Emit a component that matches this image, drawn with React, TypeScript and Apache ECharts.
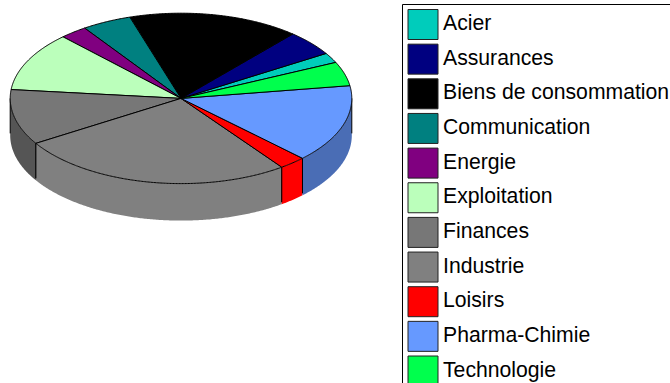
import React, { useEffect, useRef } from "react";
import * as echarts from "echarts";

const categories = ["Acier", "Assurances", "Biens de consommation", "Communication", "Energie", "Exploitation", "Finances", "Industrie", "Loisirs", "Pharma-Chimie", "Technologie"];
const shares = [1.9, 4.8, 16.2, 4.7, 2.6, 11.2, 10.5, 26.2, 2.55, 14.8, 4.55];
const topColors = ["#00CCBB", "#000080", "#000000", "#008080", "#800080", "#BBFFBB", "#777777", "#808080", "#FF0000", "#6699FF", "#00FF4D"];
const wallColors = ["#00CCBB", "#000080", "#000000", "#008080", "#800080", "#BBFFBB", "#555555", "#808080", "#FF0000", "#4A6DB5", "#00FF4D"];
const startAngle = 25;

const CX = 181, CY = 98.4, RX = 170.8, RY = 85.2, DEPTH = 37;

const total = shares.reduce((a, b) => a + b, 0);
const pt = (deg: number, dy = 0): number[] => {
  const r = (deg * Math.PI) / 180;
  return [CX + RX * Math.cos(r), CY - RY * Math.sin(r) + dy];
};
const arc = (a: number, b: number, dy = 0): number[][] => {
  const n = Math.max(2, Math.ceil(Math.abs(b - a) * 2));
  const out: number[][] = [];
  for (let i = 0; i <= n; i++) out.push(pt(a + ((b - a) * i) / n, dy));
  return out;
};

function sliceRenderer(index: number) {
  const before = shares.slice(0, index).reduce((a, b) => a + b, 0);
  return (_params: any, api: any) => {
    const value = api.value(0);
    const a0 = startAngle + (before / total) * 360;
    const a1 = a0 + (value / total) * 360;
    const children: any[] = [];
    for (const shift of [0, 360]) {
      const w0 = Math.max(a0 - shift, 180);
      const w1 = Math.min(a1 - shift, 360);
      if (w1 > w0) {
        children.push({
          type: "polygon",
          shape: { points: [...arc(w0, w1), ...arc(w1, w0, DEPTH)] },
          style: { fill: wallColors[index], stroke: null },
        });
        for (const e of [w0, w1]) {
          const p = pt(e);
          children.push({
            type: "line",
            shape: { x1: p[0], y1: p[1], x2: p[0], y2: p[1] + DEPTH - 2 },
            style: { stroke: "#000", lineWidth: 1 },
          });
        }
      }
    }
    children.push({
      type: "polygon",
      shape: { points: [[CX, CY], ...arc(a0, a1)] },
      style: { fill: topColors[index], stroke: "#000", lineWidth: 1, lineJoin: "round" },
    });
    return { type: "group", children };
  };
}

export default function App() {
  const ref = useRef<HTMLDivElement>(null);
  useEffect(() => {
    document.body.style.margin = "0";
    document.body.style.overflow = "hidden";
    const chart = echarts.init(ref.current!, null, { renderer: "svg" });
    chart.setOption({
      animation: false,
      backgroundColor: "#fff",
      legend: {
        orient: "vertical",
        left: 407.5,
        top: 9,
        width: 262,
        height: 420,
        padding: 0,
        itemWidth: 30,
        itemHeight: 30,
        itemGap: 3.65,
        selectedMode: false,
        formatter: (name: string) => `{t|${name}}`,
        textStyle: {
          color: "#000",
          fontSize: 21.2,
          fontFamily: "Liberation Sans",
          rich: {
            t: { color: "#000", fontSize: 21.2, fontFamily: "Liberation Sans", lineHeight: 24, padding: [0, 0, 4, 0] },
          },
        },
        data: categories.map((name, i) => ({
          name,
          icon: "rect",
          itemStyle: { color: topColors[i], borderColor: "#222", borderWidth: 1 },
        })),
      },
      graphic: [
        {
          type: "rect",
          silent: true,
          z: -1,
          shape: { x: 402.5, y: 4.5, width: 320, height: 420 },
          style: { fill: "none", stroke: "#000", lineWidth: 1 },
        },
      ],
      series: categories.map((name, i) => ({
        type: "custom",
        name,
        coordinateSystem: "none",
        silent: true,
        data: [[shares[i]]],
        renderItem: sliceRenderer(i),
      })),
    });
    return () => chart.dispose();
  }, []);
  return <div ref={ref} style={{ width: 670, height: 383 }} />;
}
